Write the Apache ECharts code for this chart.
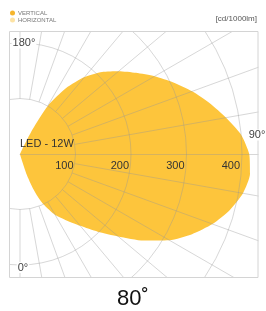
<!DOCTYPE html>
<html>
<head>
<meta charset="utf-8">
<script src="https://cdn.jsdelivr.net/npm/echarts@6/dist/echarts.min.js"></script>
<style>
  html, body { margin: 0; padding: 0; background: #fff; }
  #chart { width: 266px; height: 311px; }
</style>
</head>
<body>
<div id="chart"></div>
<script>
// angle in degrees (0 = down, 90 = right, 180 = up), intensity in cd/1000lm
var angles = [0, 10, 15, 18, 20, 22, 25, 30, 35, 40, 45, 50, 55, 60, 65, 70, 75, 80, 85, 90,
  95, 100, 105, 110, 115, 120, 125, 130, 135, 140, 145, 150, 153, 155, 160, 180];
var vertical = [0, 0, 5, 40, 60, 78, 100, 127, 146, 169, 198, 231, 272, 311, 342, 369, 391, 408, 416, 413,
  400, 377, 354, 330, 305, 280, 255, 232, 209, 181, 145, 100, 50, 10, 0, 0];
var horizontal = [];
var radiusTicks = [100, 200, 300, 400];
var angleLabels = ['0°', '90°', '180°'];

var cx = 20, cy = 154, R = 277.5;   // 500 cd at R
var gridColor = 'rgba(150,150,150,0.38)';
var font = 'Liberation Sans';

// spokes every 10 deg, only on the right half (the 90 deg one comes from the radius axis)
var spokeColors = [];
for (var a = 0; a < 360; a += 10) {
  spokeColors.push(a <= 180 && a !== 90 ? gridColor : 'rgba(0,0,0,0)');
}

var myChart = echarts.init(document.getElementById('chart'));
myChart.setOption({
  animation: false,
  legend: {
    orient: 'vertical',
    left: 10,
    top: 10,
    padding: 0,
    itemWidth: 5,
    itemHeight: 5,
    itemGap: 1,
    icon: 'circle',
    z: 110,
    data: ['VERTICAL', 'HORIZONTAL'],
    textStyle: { fontSize: 6, color: '#777', fontFamily: font, padding: [0, 0, 0, -2] }
  },
  polar: [
    { center: [cx, cy], radius: R },
    { center: [cx, cy], radius: [R / 5, R] },
    { center: [cx, cy], radius: R }
  ],
  angleAxis: [
    { polarIndex: 0, show: false, min: 0, max: 360, startAngle: 270, clockwise: false },
    {
      polarIndex: 1, min: 0, max: 360, interval: 10, startAngle: 270, clockwise: false, z: 5,
      axisLine: { show: false }, axisTick: { show: false }, axisLabel: { show: false },
      splitLine: { show: true, lineStyle: { color: spokeColors, width: 1 } }
    },
    { polarIndex: 2, show: false, min: 0, max: 360, startAngle: 0 }
  ],
  radiusAxis: [
    {
      polarIndex: 0, min: 0, max: 500, interval: 100, z: 5,
      axisLine: { show: false }, axisTick: { show: false }, axisLabel: { show: false },
      splitLine: { show: true, lineStyle: { color: gridColor, width: 1 } }
    },
    { polarIndex: 1, show: false, min: 0, max: 500 },
    {
      polarIndex: 2, min: 0, max: 500, interval: 100, z: 5,
      axisLine: { show: true, lineStyle: { color: gridColor, width: 1 } },
      axisTick: { show: false },
      splitLine: { show: false },
      axisLabel: {
        show: true,
        margin: -12,
        align: 'right',
        verticalAlign: 'middle',
        padding: [0, 2, 0, 0],
        fontSize: 11,
        color: '#333',
        fontFamily: font,
        formatter: function (v) { return radiusTicks.indexOf(v) >= 0 ? String(v) : ''; }
      }
    }
  ],
  series: [
    {
      name: 'VERTICAL',
      type: 'line',
      coordinateSystem: 'polar',
      polarIndex: 0,
      data: angles.map(function (t, i) { return [vertical[i], t]; }),
      symbol: 'none',
      smooth: 0.2,
      silent: true,
      z: 2,
      lineStyle: { width: 0 },
      itemStyle: { color: '#f6b52c' },
      areaStyle: { color: '#fdc53c', opacity: 1 }
    },
    {
      name: 'HORIZONTAL',
      type: 'line',
      coordinateSystem: 'polar',
      polarIndex: 0,
      data: horizontal,
      symbol: 'none',
      lineStyle: { width: 0 },
      itemStyle: { color: '#fde3a4' }
    }
  ],
  graphic: [
    // white masks to clip the polar grid to the frame
    { type: 'rect', z: 100, silent: true, shape: { x: 0, y: 0, width: 266, height: 31 }, style: { fill: '#fff' } },
    { type: 'rect', z: 100, silent: true, shape: { x: 0, y: 278, width: 266, height: 33 }, style: { fill: '#fff' } },
    { type: 'rect', z: 100, silent: true, shape: { x: 0, y: 0, width: 9, height: 311 }, style: { fill: '#fff' } },
    { type: 'rect', z: 100, silent: true, shape: { x: 258.5, y: 0, width: 8, height: 311 }, style: { fill: '#fff' } },
    { type: 'rect', z: 101, silent: true, shape: { x: 9.5, y: 31.5, width: 248.5, height: 246 },
      style: { fill: 'none', stroke: '#d4d4d4', lineWidth: 1 } },
    { type: 'text', z: 102, x: 257, y: 19, style: { text: '[cd/1000lm]', font: '8px "Liberation Sans"', fill: '#555', align: 'right', verticalAlign: 'middle' } },
    { type: 'text', z: 102, x: 24, y: 43, style: { text: angleLabels[2], font: '11px "Liberation Sans"', fill: '#444', align: 'center', verticalAlign: 'middle', backgroundColor: '#fff', padding: [0, 1] } },
    { type: 'text', z: 102, x: 23, y: 267.5, style: { text: angleLabels[0], font: '11px "Liberation Sans"', fill: '#444', align: 'center', verticalAlign: 'middle', backgroundColor: '#fff', padding: [0, 1] } },
    { type: 'text', z: 102, x: 257, y: 135, style: { text: angleLabels[1], font: '11px "Liberation Sans"', fill: '#444', align: 'center', verticalAlign: 'middle', backgroundColor: '#fff', padding: [0, 1] } },
    { type: 'text', z: 102, x: 20, y: 144, style: { text: 'LED - 12W', font: '11px "Liberation Sans"', fill: '#333', align: 'left', verticalAlign: 'middle' } },
    { type: 'text', z: 102, x: 133, y: 299, style: { text: '80˚', font: '22px "Liberation Sans"', fill: '#111', align: 'center', verticalAlign: 'middle' } }
  ]
});
</script>
</body>
</html>
